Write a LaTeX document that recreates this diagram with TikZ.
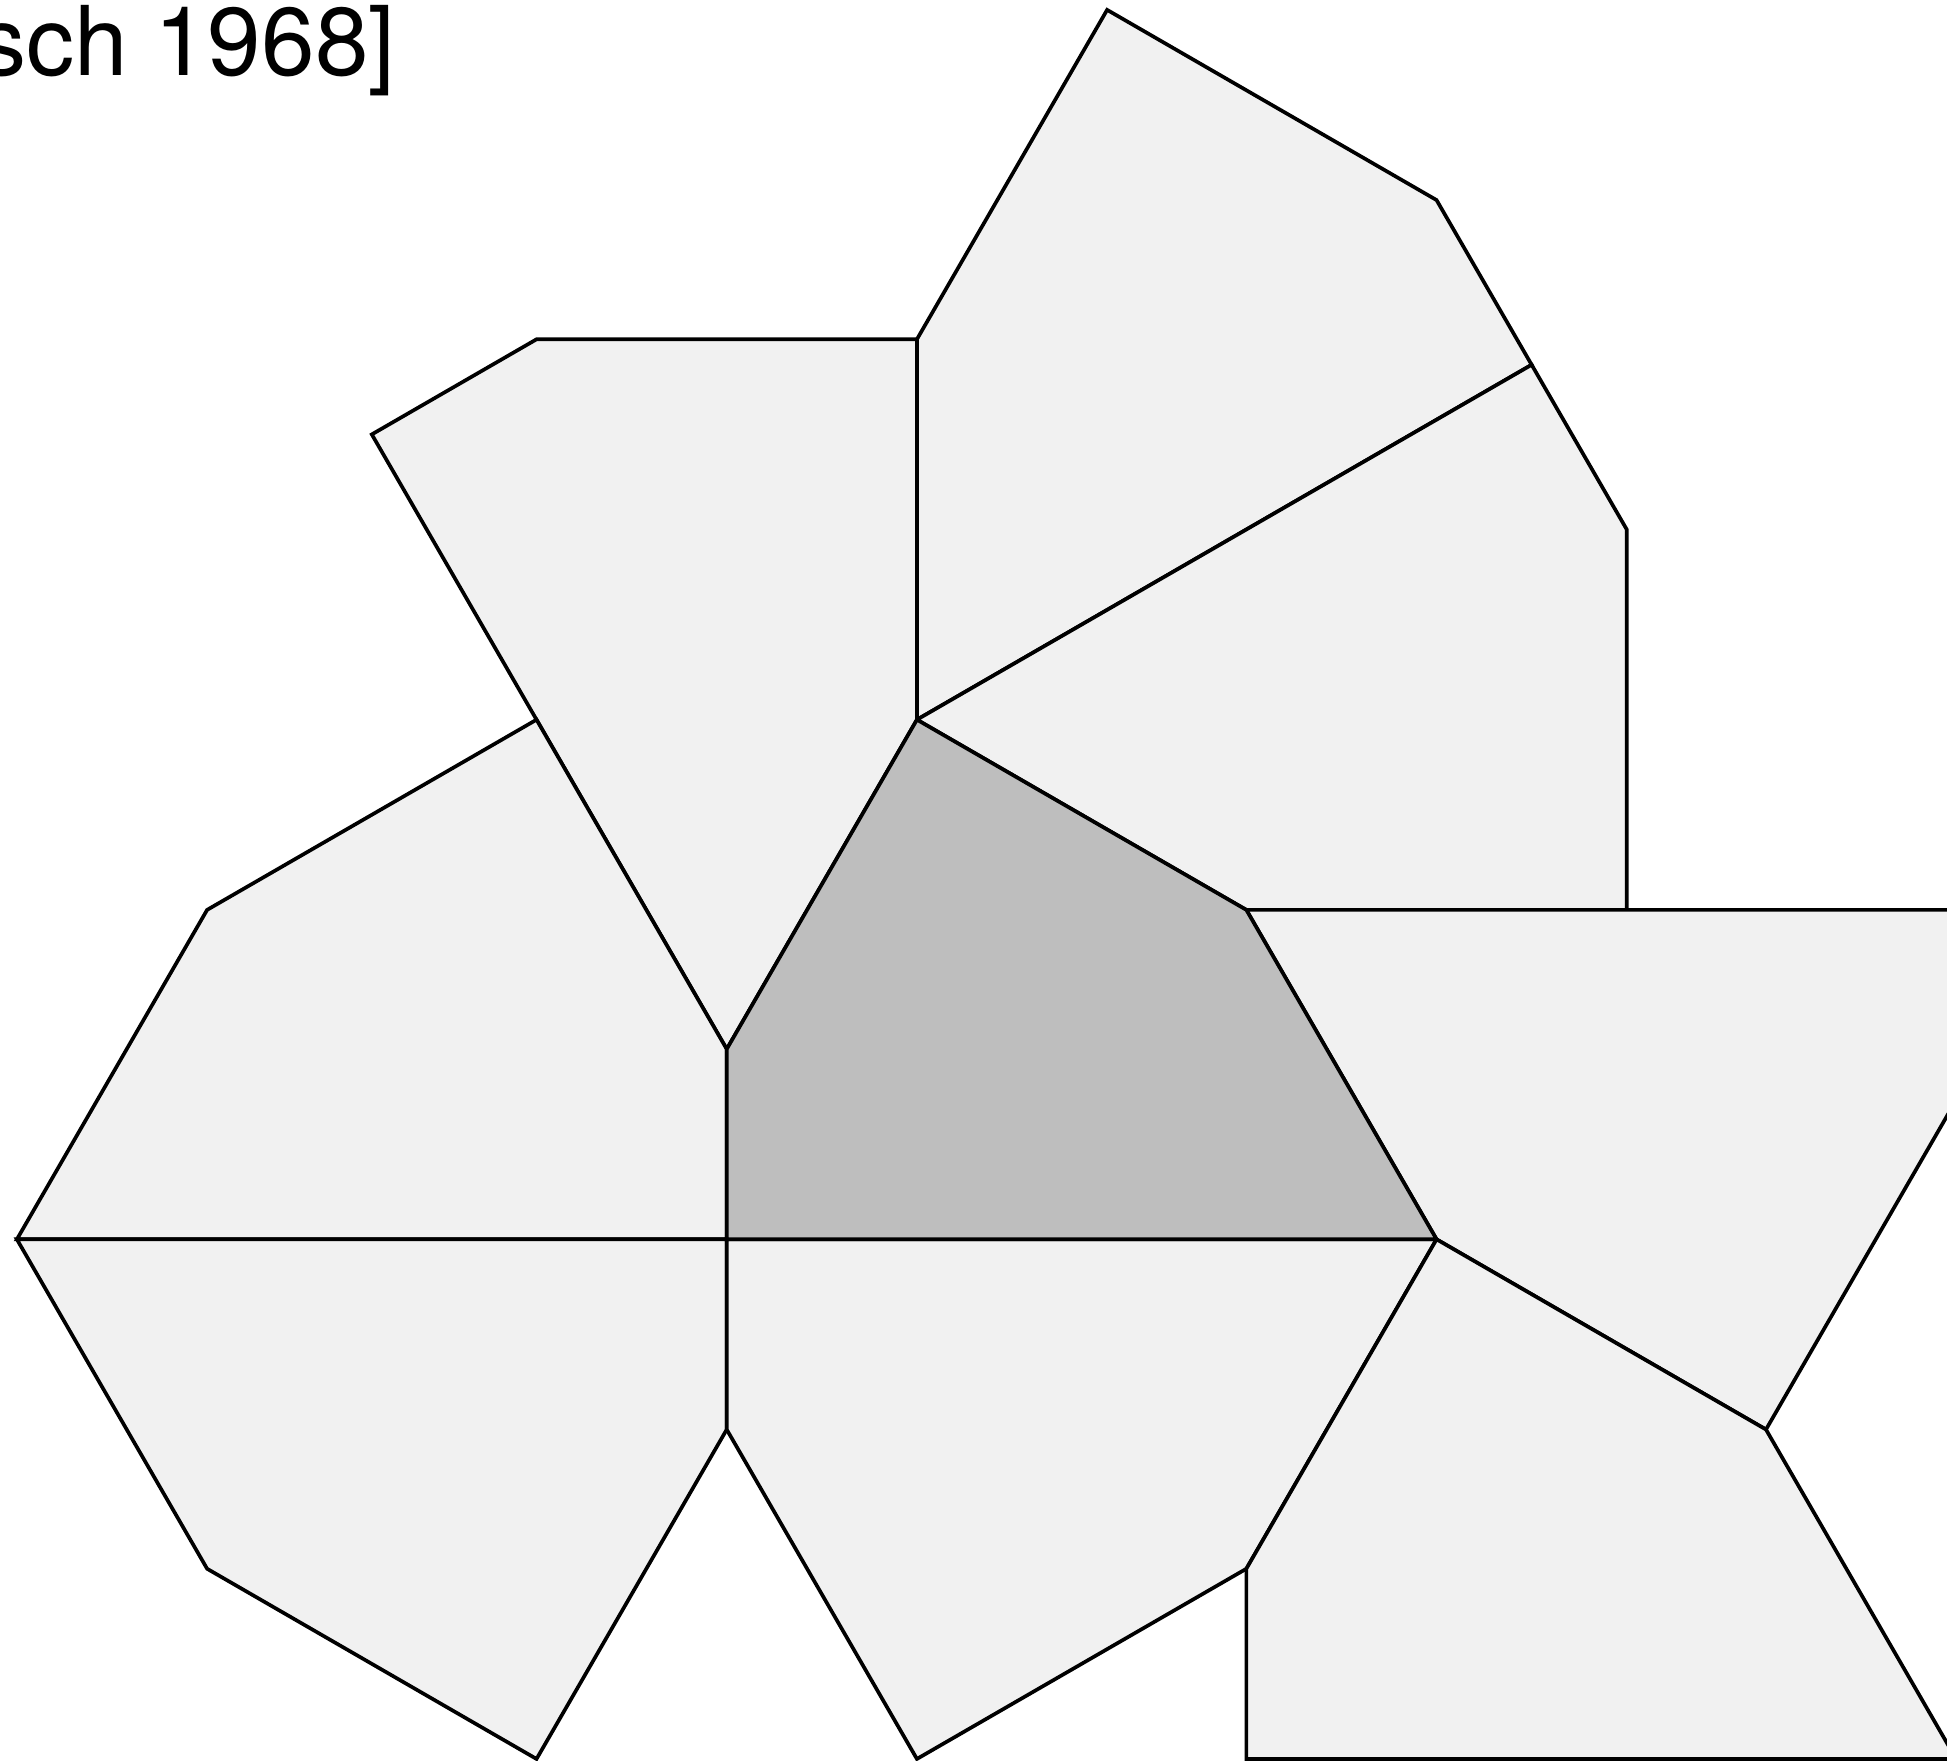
\documentclass[tikz,border=0pt]{standalone}
\usepackage{fontspec}
\setmainfont{TeX Gyre Heros}
\definecolor{tilegray}{RGB}{241,241,241}
\definecolor{maingray}{RGB}{190,190,190}
\begin{document}
\begin{tikzpicture}[x=1cm,y=1cm,
  tile/.style={fill=tilegray, draw=black, line width=0.55pt, line join=miter},
  maintile/.style={tile, fill=maingray},
  cite/.style={anchor=base east, inner sep=0pt, font=\fontsize{14.4}{16}\selectfont}]
\pgfmathsetmacro\sq{sqrt(3)}
\useasboundingbox (-3.821,-2.738) rectangle (6.416,6.516);
\clip (-3.821,-2.738) rectangle (6.416,6.516);
% vertices
\coordinate (O) at (0,0);
\coordinate (A) at (0,1);
\coordinate (B) at (1,{1+\sq});
\coordinate (C) at ({1+\sq},\sq);
\coordinate (D) at ({2+\sq},0);
\coordinate (E) at (1,{3+\sq});
\coordinate (F) at (2,{3+2*\sq});
\coordinate (G) at ({2+\sq},{2+2*\sq});
\coordinate (H) at ({2.5+\sq},{2+1.5*\sq});
\coordinate (I) at ({3+\sq},{2+\sq});
\coordinate (J) at ({3+\sq},\sq);
\coordinate (K) at (-1,{3+\sq});
\coordinate (L) at ({-1-\sq/2},{2.5+\sq});
\coordinate (M) at (-1,{1+\sq});
\coordinate (N) at ({-1-\sq},\sq);
\coordinate (P) at ({-2-\sq},0);
\coordinate (Q) at ({-1-\sq},-\sq);
\coordinate (R) at (-1,{-1-\sq});
\coordinate (S) at (0,-1);
\coordinate (T) at (1,{-1-\sq});
\coordinate (U) at ({1+\sq},-\sq);
\coordinate (V) at ({1+\sq},{-1-\sq});
\coordinate (W) at ({3+2*\sq},{-1-\sq});
\coordinate (X) at ({2+2*\sq},-1);
\coordinate (Y) at ({3+2*\sq},{\sq-1});
\coordinate (Z) at ({3+2*\sq},\sq);
% tiles
\draw[tile] (B) -- (E) -- (F) -- (G) -- (H) -- cycle;
\draw[tile] (B) -- (H) -- (I) -- (J) -- (C) -- cycle;
\draw[tile] (A) -- (B) -- (E) -- (K) -- (L) -- cycle;
\draw[tile] (O) -- (A) -- (M) -- (N) -- (P) -- cycle;
\draw[tile] (O) -- (P) -- (Q) -- (R) -- (S) -- cycle;
\draw[tile] (O) -- (D) -- (U) -- (T) -- (S) -- cycle;
\draw[tile] (C) -- (Z) -- (Y) -- (X) -- (D) -- cycle;
\draw[tile] (D) -- (X) -- (W) -- (V) -- (U) -- cycle;
\draw[maintile] (O) -- (D) -- (C) -- (B) -- (A) -- cycle;
% citation
\node[cite] (citation) at (-1.735,6.121) {sch 1968]};
\end{tikzpicture}
\end{document}
